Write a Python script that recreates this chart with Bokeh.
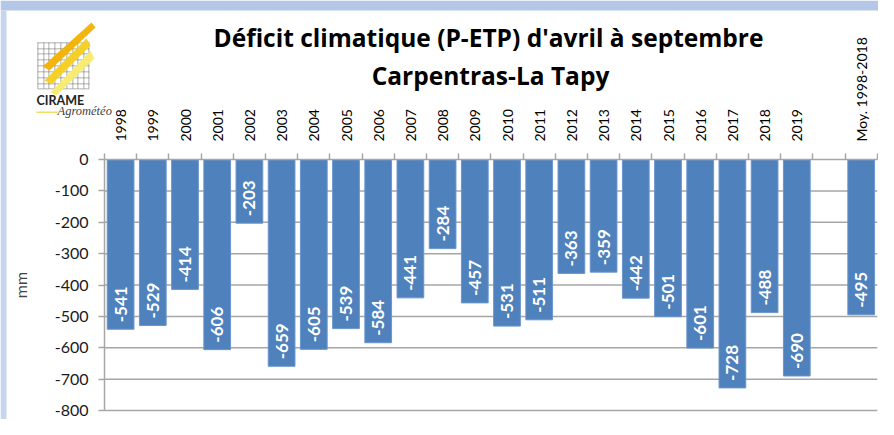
import math
from bokeh.plotting import figure
from bokeh.models import (Range1d, LinearAxis, FixedTicker, Label, BoxAnnotation,
                          PolyAnnotation, ColumnDataSource)
from bokeh.core.properties import value
from bokeh.embed import file_html
from bokeh.resources import INLINE

# ---------------- data ----------------
years = [str(y) for y in range(1998, 2020)]
deficits = [-541, -529, -414, -606, -203, -659, -605, -539, -584, -441, -284,
            -457, -531, -511, -363, -359, -442, -501, -601, -728, -488, -690]
mean_label = "Moy. 1998-2018"
mean_value = -495
y_ticks = [0, -100, -200, -300, -400, -500, -600, -700, -800]
title_line1 = "Déficit climatique (P-ETP) d'avril à septembre"
title_line2 = "Carpentras-La Tapy"

categories = years + [mean_label]
values = deficits + [mean_value]
n_slots = len(years) + 2          # one empty slot before the mean
positions = [i + 0.5 for i in range(len(years))] + [n_slots - 0.5]

# ---------------- layout (pixel geometry of the drawing area) ----------------
W, H = 878, 419
X0, SW = 104, 32.2                # pixel of the y axis, pixels per slot
Y0, PPU = 159, 251 / 800          # pixel of value 0, pixels per mm

def dx(px):   # canvas pixel -> data x (decorations only)
    return (px - X0) / SW

def dy(py):
    return -(py - Y0) / PPU

p = figure(width=W, height=H, output_backend="svg", toolbar_location=None,
           x_range=Range1d(dx(0), dx(W)), y_range=Range1d(dy(H), dy(0)),
           x_axis_location=None, y_axis_location=None, min_border=0)
p.outline_line_color = None
p.background_fill_color = "white"
p.border_fill_color = "white"
p.grid.visible = False

FONT = "Lato"
TFONT = "Open Sans"
GRID = "#a6a6a6"

# frame decoration (light blue strips)
p.add_layout(BoxAnnotation(left=dx(0), right=dx(W), top=dy(0), bottom=dy(10),
                           fill_color="#b4c7e7", fill_alpha=1, line_color=None))
p.add_layout(BoxAnnotation(left=dx(0), right=dx(6), top=dy(10), bottom=dy(H),
                           fill_color="#c5d5ee", fill_alpha=1, line_color=None))

# horizontal grid lines
p.segment(x0=0, x1=n_slots, y0=y_ticks[1:], y1=y_ticks[1:],
          line_color=GRID, line_width=1.5)

# top categorical axis (labels at slot centres, ticks at slot boundaries)
xa = LinearAxis(fixed_location=0, bounds=(0, n_slots),
                ticker=FixedTicker(ticks=positions, minor_ticks=list(range(n_slots + 1))),
                major_label_overrides={pos: cat for pos, cat in zip(positions, categories)})
xa.major_label_orientation = math.pi / 2
xa.major_tick_line_color = None
xa.major_tick_out = 0
xa.major_tick_in = 0
xa.minor_tick_in = 0
xa.minor_tick_out = 6
xa.minor_tick_line_color = GRID
xa.minor_tick_line_width = 1.5
xa.axis_line_color = GRID
xa.axis_line_width = 1.5
xa.major_label_standoff = 12
xa.major_label_text_font = FONT
xa.major_label_text_font_size = "14px"
xa.major_label_text_color = "black"
p.add_layout(xa, "above")

ya = LinearAxis(fixed_location=0, bounds=(-800, 0), ticker=FixedTicker(ticks=y_ticks))
ya.major_label_overrides = {v: str(v) for v in y_ticks}
ya.minor_tick_line_color = None
ya.major_tick_in = 0
ya.major_tick_out = 6
ya.major_tick_line_color = GRID
ya.major_tick_line_width = 1.5
ya.axis_line_color = GRID
ya.axis_line_width = 1.5
ya.major_label_text_font = FONT
ya.major_label_text_font_size = "16px"
ya.major_label_text_color = "#1a1a1a"
ya.major_label_standoff = 10
ya.axis_label = "mm"
ya.axis_label_text_font = FONT
ya.axis_label_text_font_style = "normal"
ya.axis_label_text_font_size = "16px"
ya.axis_label_standoff = 22
p.add_layout(ya, "left")

src = ColumnDataSource(dict(x=positions, top=values, cat=categories,
                            lab=[str(v) for v in values]))
p.vbar(x="x", top="top", bottom=0, width=0.83, source=src,
       fill_color="#4f81bd", line_color="#6a95cc", line_width=1)
p.text(x="x", y="top", text="lab", source=src, angle=math.pi / 2,
       text_align="left", text_baseline="middle", y_offset=-7,
       text_color="white", text_font=value(FONT), text_font_style="bold",
       text_font_size="17px")

# title
p.add_layout(Label(x=dx(488), y=dy(37), text=title_line1, text_align="center",
                   text_baseline="middle", text_font=TFONT, text_font_style="bold",
                   text_font_size="24.5px", text_color="black"))
p.add_layout(Label(x=dx(490), y=dy(75), text=title_line2, text_align="center",
                   text_baseline="middle", text_font=TFONT, text_font_style="bold",
                   text_font_size="24.5px", text_color="black"))

# logo (decoration)
gx = [37, 43, 48, 54, 60, 66, 72, 77, 83, 88]
gy = [42, 48, 53, 59, 65, 71, 77, 83, 88]
for v in gx:
    p.add_layout(BoxAnnotation(left=dx(v), right=dx(v + 0.8), top=dy(42), bottom=dy(88),
                               fill_color="#6a6a6a", fill_alpha=0.7, line_color=None))
for v in gy:
    p.add_layout(BoxAnnotation(left=dx(37), right=dx(88.8), top=dy(v), bottom=dy(v + 0.8),
                               fill_color="#6a6a6a", fill_alpha=0.7, line_color=None))
for xs, ys, col in [
    ([42, 49, 95, 91], [66, 70, 27, 22], "#f2b200"),
    ([44, 51, 90, 86], [80, 84, 45, 38], "#f5cf1c"),
    ([50, 56, 94, 90], [92, 95, 58, 50], "#f8ec6a"),
]:
    p.add_layout(PolyAnnotation(xs=[dx(v) for v in xs], ys=[dy(v) for v in ys],
                                fill_color=col, fill_alpha=0.95, line_color=None))
p.add_layout(Label(x=dx(36), y=dy(107), text="CIRAME", text_font=FONT,
                   text_font_style="bold", text_font_size="12.5px", text_color="#222222"))
p.add_layout(Label(x=dx(57), y=dy(117), text="Agrométéo", text_font="Liberation Serif",
                   text_font_style="italic", text_font_size="12.5px", text_color="#444444"))
p.add_layout(BoxAnnotation(left=dx(36), right=dx(58), top=dy(111), bottom=dy(112.5),
                           fill_color="#f0e060", fill_alpha=1, line_color=None))

open("out.html", "w").write(file_html(p, INLINE))
